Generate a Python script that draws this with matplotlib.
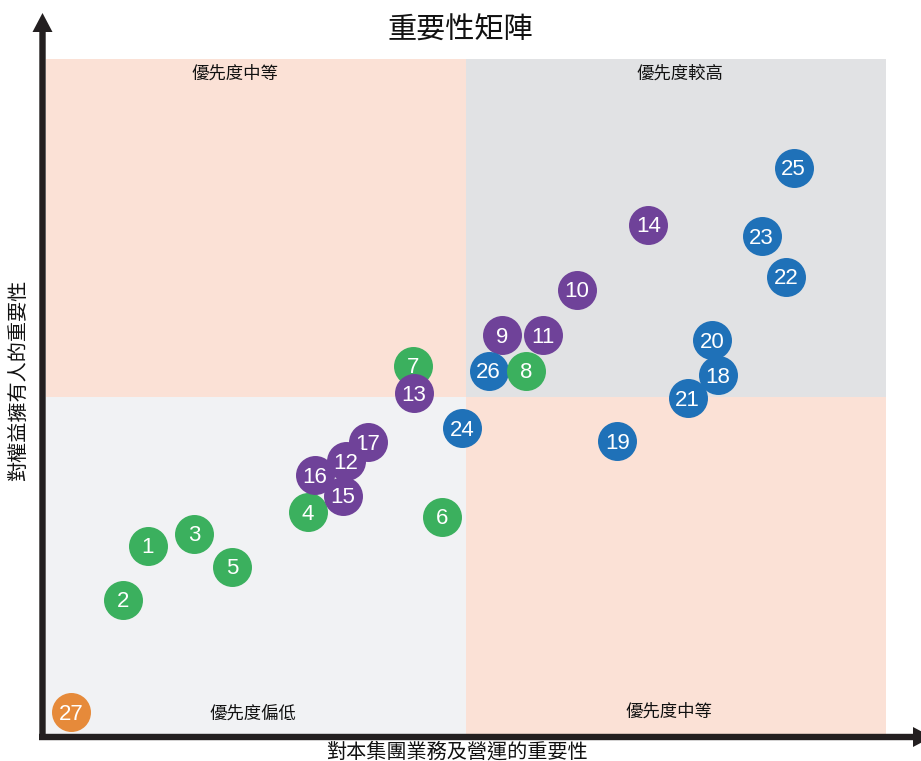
import matplotlib
matplotlib.use('Agg')
import matplotlib.pyplot as plt
from matplotlib.patches import Rectangle, FancyArrow

plt.rcParams['font.family'] = ['Noto Sans CJK TC', 'DejaVu Sans']

# ---------------- data ----------------
title = "重要性矩陣"
x_label = "對本集團業務及營運的重要性"
y_label = "對權益擁有人的重要性"
quadrant_labels = ["優先度中等", "優先度較高", "優先度偏低", "優先度中等"]  # TL, TR, BL, BR

ids = list(range(1, 28))
x_vals = [1.21, 0.92, 1.76, 3.12, 2.22, 4.71, 4.37, 5.72, 5.43, 6.32,
          5.92, 3.57, 4.38, 7.17, 3.53, 3.20, 3.83, 8.00, 6.80, 7.93,
          7.64, 8.81, 8.52, 4.95, 8.90, 5.27, 0.30]
y_vals = [2.80, 2.00, 2.98, 3.30, 2.49, 3.23, 5.46, 5.39, 5.91, 6.59,
          5.91, 4.05, 5.06, 7.55, 3.54, 3.84, 4.33, 5.32, 4.35, 5.84,
          4.98, 6.78, 7.38, 4.54, 8.39, 5.39, 0.34]
groups = (["env"] * 8) + (["soc"] * 9) + (["gov"] * 9) + (["oth"])

group_colors = {"env": "#3bb05e", "soc": "#6f4299", "gov": "#1f71b8", "oth": "#e68a3a"}
draw_order = [27, 1, 2, 3, 5, 6, 4, 17, 16, 12, 15, 7, 13, 9, 11, 26, 8, 10, 14,
              24, 19, 20, 21, 18, 22, 23, 25]

# ---------------- figure ----------------
W, H = 921, 761
fig = plt.figure(figsize=(W / 100, H / 100), dpi=100)

ax = fig.add_axes([46 / W, (H - 735) / H, 840 / W, 676 / H])
ax.set_xlim(0, 10)
ax.set_ylim(0, 10)
ax.axis('off')

ov = fig.add_axes([0, 0, 1, 1])
ov.set_xlim(0, W)
ov.set_ylim(H, 0)
ov.axis('off')

pink = "#fbe1d6"
gray = "#e1e2e4"
light = "#f1f2f4"
ax.add_patch(Rectangle((0, 5), 5, 5, facecolor=pink, edgecolor='none', zorder=0))
ax.add_patch(Rectangle((5, 5), 5, 5, facecolor=gray, edgecolor='none', zorder=0))
ax.add_patch(Rectangle((0, 0), 5, 5, facecolor=light, edgecolor='none', zorder=0))
ax.add_patch(Rectangle((5, 0), 5, 5, facecolor=pink, edgecolor='none', zorder=0))

for rank, pid in enumerate(draw_order):
    i = ids.index(pid)
    ax.scatter([x_vals[i]], [y_vals[i]], s=788, color=group_colors[groups[i]],
               linewidths=0, zorder=2 + 2 * rank, clip_on=False)
    ax.annotate(str(pid), (x_vals[i], y_vals[i]), xytext=(0, -1.5),
                textcoords='offset points', ha='center', va='center',
                color='white', fontsize=16, family='Liberation Sans',
                zorder=3 + 2 * rank)

# axis arrows
axis_color = "#231f20"
ov.add_patch(FancyArrow(42.5, 740, 0, -727, width=6.4, head_width=20, head_length=19,
                        length_includes_head=True, color=axis_color, lw=0))
ov.add_patch(FancyArrow(39, 737, 893, 0, width=6.4, head_width=20, head_length=19,
                        length_includes_head=True, color=axis_color, lw=0))

# texts
ov.text(460, 31, title, ha='center', va='center', fontsize=21, color='#111111')
ov.text(457, 752, x_label, ha='center', va='center', fontsize=14.5, color='#111111')
ov.text(19, 380, y_label, ha='center', va='center', fontsize=14.5, rotation=90, color='#111111')
q_pos = [(235, 74), (680, 74), (253, 714), (669, 712)]
for (qx, qy), lab in zip(q_pos, quadrant_labels):
    ov.text(qx, qy, lab, ha='center', va='center', fontsize=12.5, color='#111111')

fig.savefig("out.png", dpi=100)
